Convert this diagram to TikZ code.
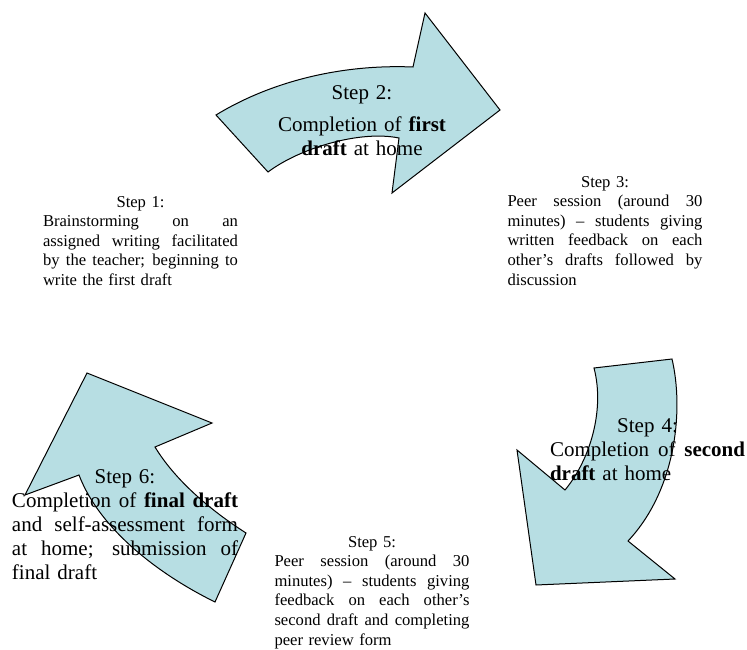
\documentclass[tikz,border=0pt]{standalone}
\usepackage{fontspec}
\setmainfont{Liberation Serif}
\definecolor{arrowblue}{RGB}{183,222,227}
% one justified line and one centred line of a step text
\newcommand{\fillline}[1]{\makebox[\linewidth][s]{\spaceskip=0pt\xspaceskip=0pt #1}\par}
\newcommand{\midline}[1]{\makebox[\linewidth][c]{#1}\par}

\begin{document}
\begin{tikzpicture}[x=1pt,y=-1pt,
    cyclearrow/.style={draw=black,line width=1pt,fill=arrowblue,line join=miter},
    smalltext/.style={text width=195pt,inner sep=0pt,anchor=base,font=\fontsize{16.6}{19.6}\selectfont},
    bigtext/.style={inner sep=0pt,anchor=base,font=\fontsize{21}{24}\selectfont}]
    % Canvas
    \useasboundingbox (0,0) rectangle (747,650);

    % Top arrow (step 2)
    \draw[cyclearrow] (216,115) .. controls (270,82) and (340,64) .. (413,67)
        -- (425,13) -- (500,110) -- (392,193) -- (399,138)
        .. controls (360,130) and (300,148) .. (268,172) -- cycle;
    % Right arrow (step 4)
    \draw[cyclearrow] (594,368) -- (672,359)
        .. controls (684,410) and (676,490) .. (628,541)
        -- (675,579) -- (536,585) -- (517,450) -- (565,490)
        .. controls (590,460) and (605,410) .. (594,368) -- cycle;
    % Left arrow (step 6)
    \draw[cyclearrow] (87,373) -- (212,423) -- (155,447)
        .. controls (175,480) and (210,510) .. (246,533)
        -- (215,602)
        .. controls (160,575) and (100,530) .. (79,475)
        -- (25,495) -- cycle;

    % Steps
    \node[smalltext] (step1) at (140.5,207) {\midline{Step 1:}\fillline{Brainstorming on an}\fillline{assigned writing facilitated}\fillline{by the teacher; beginning to}write the first draft};
    \node[bigtext,text width=220pt,align=center] (step2) at (362,100) {Step 2:\\[8pt]Completion of \textbf{first}\\\textbf{draft} at home};
    \node[smalltext] (step3) at (605,187) {\midline{Step 3:}\fillline{Peer session (around 30}\fillline{minutes) – students giving}\fillline{written feedback on each}\fillline{other’s drafts followed by}discussion};
    \node[bigtext,text width=195pt] (step4) at (647.5,432) {\midline{Step 4:}\fillline{Completion of \textbf{second}}\textbf{draft} at home};
    \node[smalltext] (step5) at (372,547) {\midline{Step 5:}\fillline{Peer session (around 30}\fillline{minutes) – students giving}\fillline{feedback on each other’s}\fillline{second draft and completing}peer review form};
    \node[bigtext,text width=226pt] (step6) at (125,483) {\midline{Step 6:}\fillline{Completion of \textbf{final draft}}\fillline{and self-assessment form}\fillline{at home; submission of}final draft};
\end{tikzpicture}
\end{document}
